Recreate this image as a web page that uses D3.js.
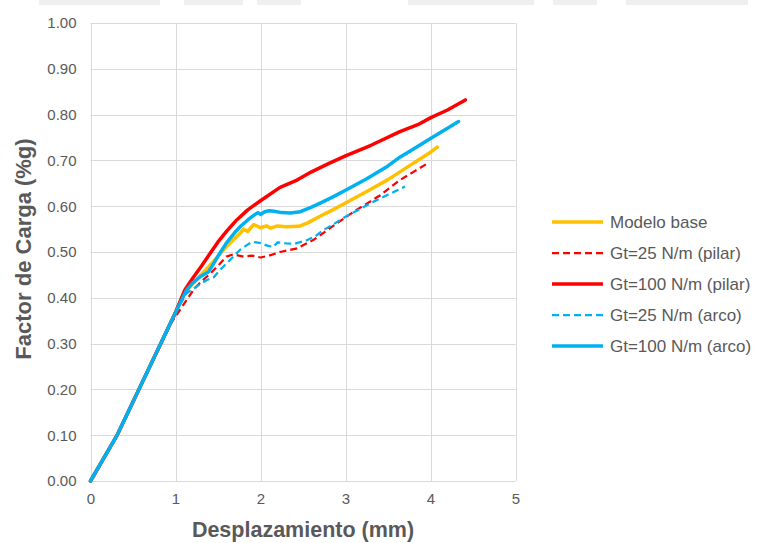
<!DOCTYPE html>
<html>
<head>
<meta charset="utf-8">
<script src="https://cdn.jsdelivr.net/npm/d3@7"></script>
<style>
  html, body { margin: 0; padding: 0; background: #ffffff; }
  svg { display: block; font-family: "Liberation Sans", Arial, sans-serif; }
</style>
</head>
<body>
<svg id="chart" width="757" height="543"></svg>
<script>
// Load factor vs displacement curves, [desplazamiento (mm), factor de carga (%g)]
const modeloBase = [
  [0, 0], [0.31, 0.099], [1.0, 0.368], [1.1, 0.41], [1.3, 0.45], [1.45, 0.48],
  [1.6, 0.512], [1.7, 0.53], [1.76, 0.541], [1.8, 0.55], [1.85, 0.545], [1.92, 0.56],
  [2.0, 0.553], [2.07, 0.557], [2.12, 0.552], [2.2, 0.557], [2.3, 0.555], [2.45, 0.556],
  [2.55, 0.563], [2.7, 0.578], [2.85, 0.592], [3.0, 0.607], [3.25, 0.632], [3.5, 0.658],
  [3.75, 0.688], [4.0, 0.718], [4.08, 0.729]
];
const gt25Pilar = [
  [0, 0], [0.31, 0.099], [0.95, 0.345], [1.0, 0.359], [1.09, 0.384], [1.21, 0.417],
  [1.3, 0.435], [1.41, 0.453], [1.5, 0.47], [1.6, 0.49], [1.68, 0.495], [1.8, 0.49],
  [1.9, 0.492], [2.0, 0.488], [2.1, 0.492], [2.23, 0.5], [2.43, 0.508], [2.62, 0.526],
  [2.75, 0.543], [2.9, 0.563], [3.13, 0.592], [3.41, 0.624], [3.64, 0.657], [3.8, 0.675],
  [3.97, 0.694]
];
const gt100Pilar = [
  [0, 0], [0.31, 0.099], [1.0, 0.368], [1.11, 0.417], [1.2, 0.442], [1.3, 0.468],
  [1.4, 0.495], [1.5, 0.522], [1.6, 0.545], [1.72, 0.57], [1.85, 0.592], [2.0, 0.612],
  [2.23, 0.641], [2.43, 0.657], [2.6, 0.675], [2.8, 0.693], [3.0, 0.71], [3.3, 0.733],
  [3.64, 0.763], [3.85, 0.778], [4.01, 0.794], [4.2, 0.81], [4.41, 0.832]
];
const gt25Arco = [
  [0, 0], [0.31, 0.099], [1.0, 0.368], [1.13, 0.41], [1.25, 0.425], [1.37, 0.439],
  [1.45, 0.445], [1.52, 0.46], [1.6, 0.475], [1.68, 0.49], [1.76, 0.505], [1.84, 0.515],
  [1.9, 0.522], [1.99, 0.52], [2.08, 0.514], [2.15, 0.511], [2.2, 0.521], [2.3, 0.519],
  [2.4, 0.518], [2.55, 0.526], [2.65, 0.535], [2.74, 0.548], [2.87, 0.562], [3.0, 0.577],
  [3.17, 0.594], [3.33, 0.61], [3.5, 0.625], [3.7, 0.643]
];
const gt100Arco = [
  [0, 0], [0.31, 0.099], [1.0, 0.368], [1.13, 0.417], [1.2, 0.432], [1.29, 0.446],
  [1.39, 0.457], [1.45, 0.475], [1.52, 0.497], [1.6, 0.52], [1.7, 0.543], [1.76, 0.555],
  [1.85, 0.57], [1.92, 0.58], [1.97, 0.586], [2.0, 0.582], [2.05, 0.588], [2.1, 0.59],
  [2.16, 0.589], [2.25, 0.586], [2.35, 0.585], [2.47, 0.588], [2.6, 0.598], [2.74, 0.61],
  [2.87, 0.622], [3.0, 0.635], [3.25, 0.66], [3.5, 0.688], [3.64, 0.707], [3.8, 0.725],
  [4.0, 0.748], [4.2, 0.77], [4.33, 0.785]
];

const seriesNames = ["Modelo base", "Gt=25 N/m (pilar)", "Gt=100 N/m (pilar)", "Gt=25 N/m (arco)", "Gt=100 N/m (arco)"];
const seriesData = [modeloBase, gt25Pilar, gt100Pilar, gt25Arco, gt100Arco];
const seriesColors = ["#FFC000", "#FF0000", "#FF0000", "#00B0F0", "#00B0F0"];
const seriesDashed = [false, true, false, true, false];

const xTicks = [0, 1, 2, 3, 4, 5];
const yTicks = [0, 0.1, 0.2, 0.3, 0.4, 0.5, 0.6, 0.7, 0.8, 0.9, 1.0];
const xTitle = "Desplazamiento (mm)";
const yTitle = "Factor de Carga (%g)";

const svg = d3.select("#chart");
const margin = { left: 90.5, top: 23, width: 425, height: 458 };

// faint band along the top edge
const bandSegs = [[39, 160], [184, 243], [257, 301], [408, 534], [553, 597], [626, 748]];
svg.append("g").selectAll("rect").data(bandSegs).join("rect")
  .attr("x", d => d[0]).attr("y", 0).attr("width", d => d[1] - d[0]).attr("height", 5)
  .attr("fill", "#efefef");

const x = d3.scaleLinear().domain([0, 5]).range([margin.left, margin.left + margin.width]);
const y = d3.scaleLinear().domain([0, 1]).range([margin.top + margin.height, margin.top]);

const textColor = "#595959";
const gridColor = "#d9d9d9";

// gridlines
const grid = svg.append("g");
grid.selectAll("line.h").data(yTicks).join("line").attr("class", "h")
  .attr("x1", x(0)).attr("x2", x(5))
  .attr("y1", d => Math.round(y(d)) + 0.5).attr("y2", d => Math.round(y(d)) + 0.5)
  .attr("stroke", gridColor).attr("stroke-width", 1);
grid.selectAll("line.v").data(xTicks).join("line").attr("class", "v")
  .attr("y1", y(0)).attr("y2", y(1))
  .attr("x1", d => Math.round(x(d)) + 0.5).attr("x2", d => Math.round(x(d)) + 0.5)
  .attr("stroke", gridColor).attr("stroke-width", 1);

// axes (labels only)
const xAxis = svg.append("g").attr("transform", `translate(0,${y(0)})`)
  .call(d3.axisBottom(x).tickValues(xTicks).tickFormat(d3.format("d")).tickSize(0).tickPadding(12));
const yAxis = svg.append("g").attr("transform", `translate(${x(0)},0)`)
  .call(d3.axisLeft(y).tickValues(yTicks).tickFormat(d3.format(".2f")).tickSize(0).tickPadding(14));
[xAxis, yAxis].forEach(a => {
  a.select(".domain").remove();
  a.selectAll("text").attr("fill", textColor).style("font-size", "15px")
    .style("font-family", "'Liberation Sans', Arial, sans-serif");
});

// curves
const line = d3.line().x(d => x(d[0])).y(d => y(d[1])).curve(d3.curveLinear);
const curves = svg.append("g");
seriesData.forEach((data, i) => {
  curves.append("path").datum(data)
    .attr("d", line)
    .attr("fill", "none")
    .attr("stroke", seriesColors[i])
    .attr("stroke-width", seriesDashed[i] ? 2.25 : 3.5)
    .attr("stroke-dasharray", seriesDashed[i] ? "7,4" : null)
    .attr("stroke-linecap", seriesDashed[i] ? "butt" : "round")
    .attr("stroke-linejoin", "round");
});

// axis titles
svg.append("text")
  .attr("x", (x(0) + x(5)) / 2).attr("y", 537)
  .attr("text-anchor", "middle")
  .attr("fill", textColor).style("font-weight", "bold").style("font-size", "21.5px")
  .text(xTitle);
svg.append("text")
  .attr("transform", `translate(31,${(y(0) + y(1)) / 2 - 3}) rotate(-90)`)
  .attr("text-anchor", "middle")
  .attr("fill", textColor).style("font-weight", "bold").style("font-size", "22px")
  .text(yTitle);

// legend
const legend = svg.append("g").attr("transform", "translate(552,222)");
const rowGap = 31;
seriesNames.forEach((name, i) => {
  const g = legend.append("g").attr("transform", `translate(0,${i * rowGap})`);
  g.append("line").attr("x1", 0).attr("x2", 51).attr("y1", 0).attr("y2", 0)
    .attr("stroke", seriesColors[i])
    .attr("stroke-width", seriesDashed[i] ? 2.25 : 3.5)
    .attr("stroke-dasharray", seriesDashed[i] ? "7,4" : null);
  g.append("text").attr("x", 58).attr("y", 0).attr("dy", "0.36em")
    .attr("fill", textColor).style("font-size", "17px").text(name);
});
</script>
</body>
</html>
